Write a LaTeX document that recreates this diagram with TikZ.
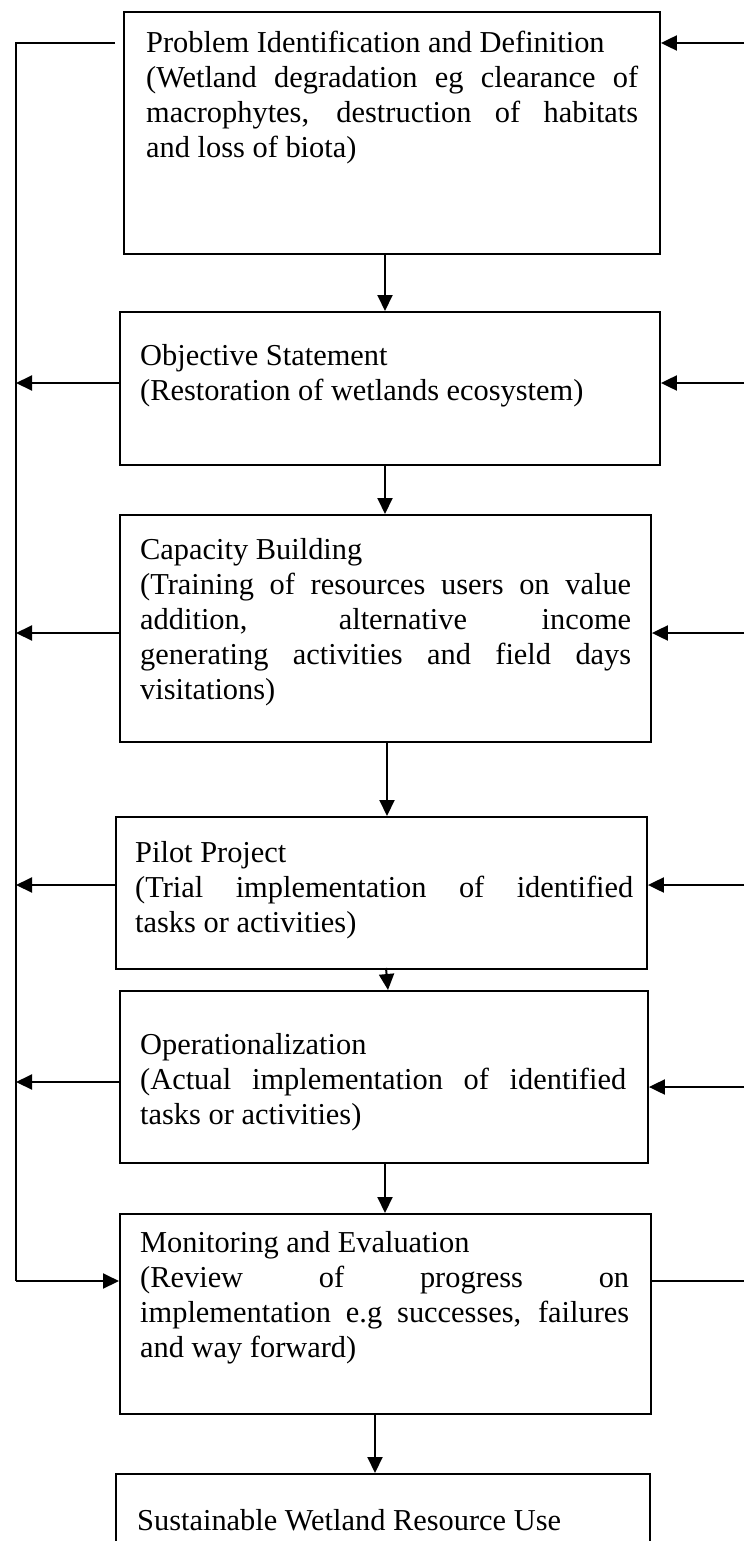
\documentclass[tikz,border=0pt]{standalone}
\usepackage{fontspec}
\setmainfont{Liberation Serif}
\usetikzlibrary{arrows.meta}
\hbadness=10000
\begin{document}
\begin{tikzpicture}[x=1pt,y=-1pt,
  stage/.style={draw, line width=1.9pt, inner sep=0pt, anchor=north west},
  txt/.style={anchor=north west, inner sep=0pt, align=justify,
    font=\fontsize{30.4}{35}\selectfont},
  flow/.style={line width=2pt, -{Triangle[length=16pt,width=15pt]}},
  link/.style={line width=2pt}]
\clip (0,0) rectangle (744,1541);

% stage boxes
\node[stage, minimum width=536pt, minimum height=242pt] (b1) at (123,11) {};
\node[stage, minimum width=540pt, minimum height=153pt] (b2) at (119,311) {};
\node[stage, minimum width=531pt, minimum height=227pt] (b3) at (119,514) {};
\node[stage, minimum width=531pt, minimum height=152pt] (b4) at (115,816) {};
\node[stage, minimum width=528pt, minimum height=172pt] (b5) at (119,990) {};
\node[stage, minimum width=531pt, minimum height=200pt] (b6) at (119,1213) {};
\node[stage, minimum width=534pt, minimum height=100pt] (b7) at (115,1473) {};

% stage texts
\node[txt, text width=492pt] (t1) at (146,27.5)
  {\strut Problem Identification and Definition\newline
   (Wetland degradation eg clearance of\linebreak
   macrophytes, destruction of habitats\linebreak
   and loss of biota)};
\node[txt, text width=500pt] (t2) at (140,340.5)
  {\strut Objective Statement\newline
   (Restoration of wetlands ecosystem)};
\node[txt, text width=491pt] (t3) at (140,534.5)
  {\strut Capacity Building\newline
   (Training of resources users on value\linebreak
   addition, alternative income\linebreak
   generating activities and field days\linebreak
   visitations)};
\node[txt, text width=498pt] (t4) at (135,837.5)
  {\strut Pilot Project\newline
   (Trial implementation of identified\linebreak
   tasks or activities)};
\node[txt, text width=486pt] (t5) at (140,1029.5)
  {\strut Operationalization\newline
   (Actual implementation of identified\linebreak
   tasks or activities)};
\node[txt, text width=489pt] (t6) at (140,1227.5)
  {\strut Monitoring and Evaluation\newline
   (Review of progress on\linebreak
   implementation e.g successes, failures\linebreak
   and way forward)};
\node[txt, text width=500pt] (t7) at (137,1505.5)
  {\strut Sustainable Wetland Resource Use};

% main downward flow
\draw[flow] (385,253) -- (385,311);
\draw[flow] (385,464) -- (385,514);
\draw[flow] (387,741) -- (387,816);
\draw[flow] (386,968) -- (388,990);
\draw[flow] (385,1162) -- (385,1213);
\draw[flow] (375,1413) -- (375,1473);

% feedback spine on the left
\coordinate (ltop) at (16,43);
\coordinate (ltopend) at (115,43);
\coordinate (lbot) at (16,1281);
\coordinate (l2) at (16,383);
\coordinate (l3) at (16,633);
\coordinate (l4) at (16,885);
\coordinate (l5) at (16,1082);
\draw[link] (ltopend) -- (ltop) -- (lbot);
\draw[flow] (lbot) -- (lbot -| b6.west);
\draw[flow] (l2 -| b2.west) -- (l2);
\draw[flow] (l3 -| b3.west) -- (l3);
\draw[flow] (l4 -| b4.west) -- (l4);
\draw[flow] (l5 -| b5.west) -- (l5);

% inputs from the right
\coordinate (r1) at (744,43);
\coordinate (r2) at (744,383);
\coordinate (r3) at (744,633);
\coordinate (r4) at (744,885);
\coordinate (r5) at (744,1087);
\coordinate (r6) at (744,1281);
\draw[flow] (r1) -- (r1 -| b1.east);
\draw[flow] (r2) -- (r2 -| b2.east);
\draw[flow] (r3) -- (r3 -| b3.east);
\draw[flow] (r4) -- (r4 -| b4.east);
\draw[flow] (r5) -- (r5 -| b5.east);
\draw[link] (r6 -| b6.east) -- (r6);
\end{tikzpicture}
\end{document}
